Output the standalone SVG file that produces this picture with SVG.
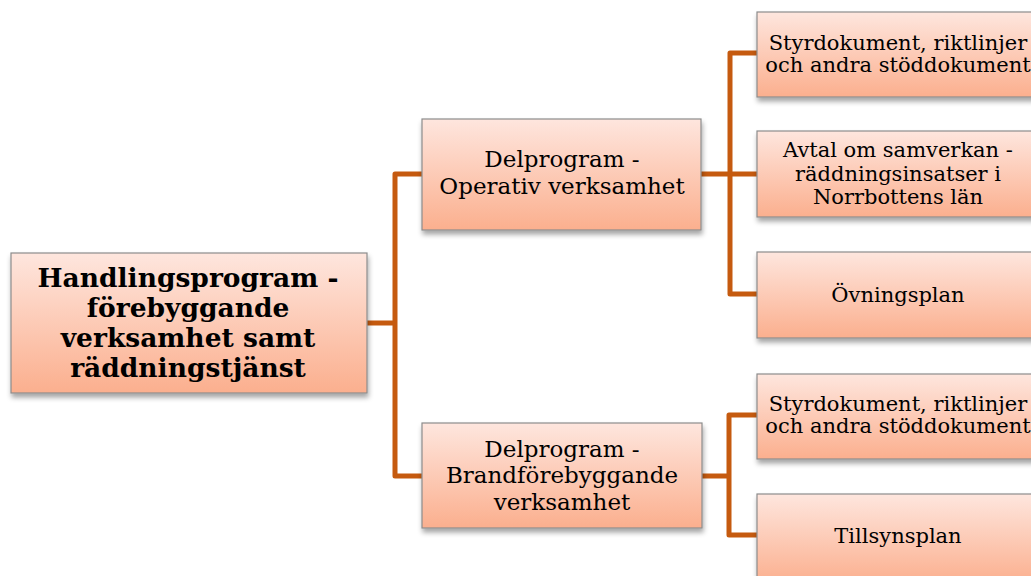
<svg xmlns="http://www.w3.org/2000/svg" width="1031" height="576" viewBox="0 0 1031 576">
<defs>
<linearGradient id="g" x1="0" y1="0" x2="0" y2="1">
<stop offset="0" stop-color="#fee6de"/>
<stop offset="1" stop-color="#fbaf8e"/>
</linearGradient>
<filter id="sh" x="-10%" y="-10%" width="125%" height="140%">
<feDropShadow dx="1" dy="4" stdDeviation="2.5" flood-color="#000" flood-opacity="0.35"/>
</filter>
</defs>
<style>
.box{fill:url(#g);stroke:#8c8c8c;stroke-width:1.2;filter:url(#sh)}
.t{font-family:"DejaVu Serif","Liberation Serif",serif;fill:#000;text-anchor:middle}
.root{font-size:26.5px;font-weight:bold}
.mid{font-size:23px}
.leaf{font-size:21px}
.c{fill:none;stroke:#c55a0f;stroke-width:5;stroke-linejoin:round;stroke-linecap:round}
</style>
<rect width="1031" height="576" fill="#fff"/>
<g id="connectors">
<path class="c" d="M367,323 H395 M422,174 H395 V476 H422"/>
<path class="c" d="M701,174 H730 M757,53 H730 V294 H757 M730,174 H757"/>
<path class="c" d="M702,476 H729 M757,415 H729 V535 H757"/>
</g>
<g id="root">
<rect class="box" x="11" y="253" width="356" height="140"/>
<text class="t root" x="188" y="287">Handlingsprogram -</text>
<text class="t root" x="188" y="317">förebyggande</text>
<text class="t root" x="188" y="347">verksamhet samt</text>
<text class="t root" x="188" y="377">räddningstjänst</text>
</g>
<g id="operativ">
<rect class="box" x="422" y="119" width="279" height="111"/>
<text class="t mid" x="562" y="167">Delprogram -</text>
<text class="t mid" x="562" y="194">Operativ verksamhet</text>
</g>
<g id="brand">
<rect class="box" x="422" y="423" width="280" height="105"/>
<text class="t mid" x="562" y="457">Delprogram -</text>
<text class="t mid" x="562" y="483">Brandförebyggande</text>
<text class="t mid" x="562" y="510">verksamhet</text>
</g>
<g id="styr1">
<rect class="box" x="757" y="12" width="282" height="85"/>
<text class="t leaf" x="898" y="50">Styrdokument, riktlinjer</text>
<text class="t leaf" x="898" y="72">och andra stöddokument</text>
</g>
<g id="avtal">
<rect class="box" x="757" y="131" width="282" height="86"/>
<text class="t leaf" x="898" y="157">Avtal om samverkan -</text>
<text class="t leaf" x="898" y="181">räddningsinsatser i</text>
<text class="t leaf" x="898" y="204">Norrbottens län</text>
</g>
<g id="ovning">
<rect class="box" x="757" y="252" width="282" height="86"/>
<text class="t leaf" x="898" y="302">Övningsplan</text>
</g>
<g id="styr2">
<rect class="box" x="757" y="374" width="282" height="85"/>
<text class="t leaf" x="898" y="411">Styrdokument, riktlinjer</text>
<text class="t leaf" x="898" y="433">och andra stöddokument</text>
</g>
<g id="tillsyn">
<rect class="box" x="757" y="494" width="282" height="90"/>
<text class="t leaf" x="898" y="543">Tillsynsplan</text>
</g>
</svg>
